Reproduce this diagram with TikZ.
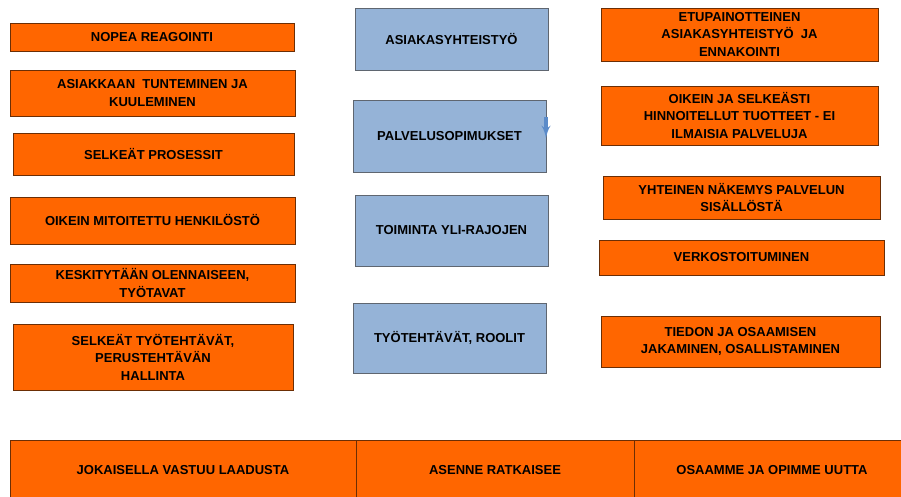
\documentclass[tikz,border=0pt]{standalone}
\usepackage{fontspec}
\setmainfont{Liberation Sans}
\usepackage{tikz}
\usetikzlibrary{shapes,arrows,shadows}
\usepackage{xcolor}
\definecolor{boxorange}{HTML}{FF6600}
\definecolor{boxborder}{HTML}{6B2E05}
\definecolor{boxblue}{HTML}{95B3D7}
\definecolor{blueborder}{HTML}{5F6670}
\definecolor{tipblue}{HTML}{5B8BC9}

\begin{document}
\begin{tikzpicture}[x=1pt, y=-1pt, thick,
  font=\fontsize{13}{17.5}\selectfont\bfseries]
  \tikzstyle{orangebox} = [rectangle, draw=boxborder, line width=0.8pt, fill=boxorange, align=center, inner sep=1pt, drop shadow={shadow xshift=1.2pt, shadow yshift=-1.2pt, fill=gray!70}]
  \tikzstyle{bluebox} = [rectangle, draw=blueborder, line width=0.8pt, fill=boxblue, align=center, inner sep=1pt, minimum width=193, drop shadow={shadow xshift=1.2pt, shadow yshift=-1.2pt, fill=gray!70}]
  \tikzstyle{basebox} = [rectangle, draw=boxborder, line width=0.8pt, fill=boxorange, align=center, minimum height=60]
  \tikzstyle{arrow} = [draw=tipblue, -latex', line width=3.2pt]

  \clip (0,0) rectangle (901,497);
  \fill[white] (0,0) rectangle (901,497);

  % left column
  \node[orangebox, minimum width=284, minimum height=28] (nopea) at (152,37) {NOPEA REAGOINTI};
  \node[orangebox, minimum width=285, minimum height=46] (asiakkaan) at (152.5,93) {ASIAKKAAN \ TUNTEMINEN JA\\KUULEMINEN};
  \node[orangebox, minimum width=281, minimum height=42] (prosessit) at (153.5,154) {SELKEÄT PROSESSIT};
  \node[orangebox, minimum width=285, minimum height=47] (mitoitettu) at (152.5,220.5) {OIKEIN MITOITETTU HENKILÖSTÖ};
  \node[orangebox, minimum width=285, minimum height=38] (olennainen) at (152.5,283) {KESKITYTÄÄN OLENNAISEEN,\\TYÖTAVAT};
  \node[orangebox, minimum width=280, minimum height=66] (tyotehtavat) at (153,357) {SELKEÄT TYÖTEHTÄVÄT,\\PERUSTEHTÄVÄN\\HALLINTA};

  % middle column
  \node[bluebox, minimum height=62] (yhteistyo) at (451.5,39) {ASIAKASYHTEISTYÖ};
  \node[bluebox, minimum height=72] (sopimukset) at (449.5,136) {PALVELUSOPIMUKSET};
  \node[bluebox, minimum height=71] (rajat) at (451.5,230.5) {TOIMINTA YLI-RAJOJEN};
  \node[bluebox, minimum height=70] (roolit) at (449.5,338) {TYÖTEHTÄVÄT, ROOLIT};

  % right column
  \node[orangebox, minimum width=277, minimum height=53] (ennakointi) at (739.5,34.5) {ETUPAINOTTEINEN\\ASIAKASYHTEISTYÖ \ JA\\ENNAKOINTI};
  \node[orangebox, minimum width=277, minimum height=59] (hinnoittelu) at (739.5,115.5) {OIKEIN JA SELKEÄSTI\\HINNOITELLUT TUOTTEET - EI\\ILMAISIA PALVELUJA};
  \node[orangebox, minimum width=277, minimum height=43] (nakemys) at (741.5,197.5) {YHTEINEN NÄKEMYS PALVELUN\\SISÄLLÖSTÄ};
  \node[orangebox, minimum width=285, minimum height=35] (verkosto) at (741.5,257.5) {VERKOSTOITUMINEN};
  \node[orangebox, minimum width=279, minimum height=51] (tieto) at (740.5,341.5) {TIEDON JA OSAAMISEN\\JAKAMINEN, OSALLISTAMINEN};

  % bottom bar
  \node[basebox, minimum width=346] (vastuu) at (183,470) {JOKAISELLA VASTUU LAADUSTA};
  \node[basebox, minimum width=278] (asenne) at (495,470) {ASENNE RATKAISEE};
  \node[basebox, minimum width=276] (opimme) at (772,470) {OSAAMME JA OPIMME UUTTA};

  \coordinate (tipstart) at (546,117);
  \coordinate (tipend) at (546,138);
  \path[arrow] (tipstart) -- (tipend);
\end{tikzpicture}
\end{document}
